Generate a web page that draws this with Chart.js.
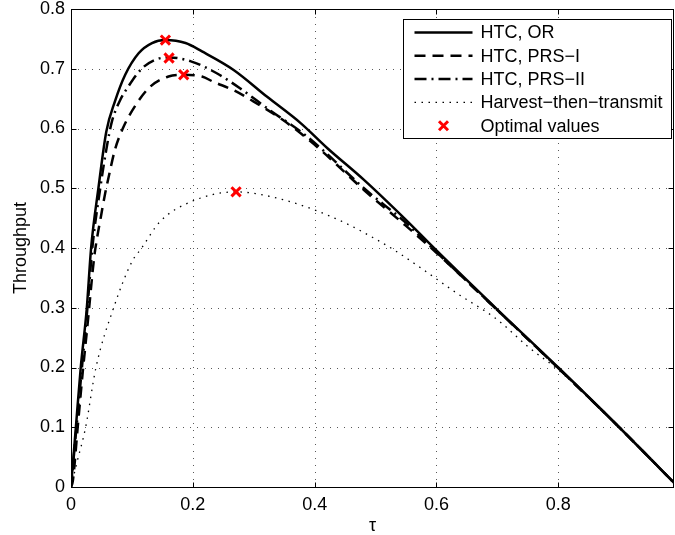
<!DOCTYPE html>
<html>
<head>
<meta charset="utf-8">
<script src="https://cdn.jsdelivr.net/npm/chart.js@4.4.1/dist/chart.umd.min.js"></script>
<style>
  html, body { margin: 0; padding: 0; background: #fff; overflow: hidden; }
  canvas { display: block; }
</style>
</head>
<body>
<canvas id="myChart" width="675" height="535"></canvas>
<script>
// values (tau on x, throughput on y)
const tauOR = [0, 0.008, 0.016, 0.026, 0.033, 0.045, 0.058, 0.072, 0.089, 0.111, 0.133, 0.155, 0.188, 0.215, 0.267, 0.322, 0.377, 0.421, 0.481, 0.547, 0.6, 0.7, 0.8, 0.9, 0.99];
const thrOR = [0, 0.1, 0.2, 0.3, 0.4, 0.5, 0.595, 0.645, 0.69, 0.726, 0.743, 0.748, 0.743, 0.729, 0.698, 0.653, 0.609, 0.567, 0.514, 0.45, 0.396, 0.297, 0.2, 0.1, 0.007];

const tauPRS1 = [0, 0.003, 0.011, 0.02, 0.027, 0.038, 0.043, 0.049, 0.056, 0.064, 0.072, 0.085, 0.108, 0.13, 0.16, 0.186, 0.215, 0.234, 0.267, 0.3, 0.344, 0.377, 0.41, 0.481, 0.55, 0.6, 0.7, 0.8, 0.9, 0.99];
const thrPRS1 = [0, 0.01, 0.1, 0.2, 0.27, 0.384, 0.418, 0.452, 0.491, 0.529, 0.564, 0.6, 0.642, 0.67, 0.687, 0.69, 0.687, 0.678, 0.664, 0.645, 0.617, 0.592, 0.564, 0.497, 0.437, 0.392, 0.296, 0.199, 0.1, 0.007];

const tauPRS2 = [0, 0.009, 0.018, 0.027, 0.035, 0.048, 0.058, 0.067, 0.081, 0.094, 0.116, 0.138, 0.161, 0.198, 0.24, 0.278, 0.33, 0.377, 0.41, 0.481, 0.55, 0.6, 0.7, 0.8, 0.9, 0.99];
const thrPRS2 = [0, 0.1, 0.2, 0.3, 0.4, 0.5, 0.565, 0.611, 0.648, 0.67, 0.7, 0.715, 0.719, 0.712, 0.692, 0.667, 0.628, 0.595, 0.567, 0.5, 0.442, 0.393, 0.296, 0.199, 0.1, 0.007];

const tauHTT = [0, 0.01, 0.024, 0.041, 0.07, 0.1, 0.116, 0.146, 0.196, 0.271, 0.303, 0.355, 0.399, 0.45, 0.5, 0.53, 0.571, 0.634, 0.7, 0.75, 0.8, 0.86, 0.9, 0.99];
const thrHTT = [0, 0.042, 0.1, 0.2, 0.3, 0.377, 0.4, 0.444, 0.477, 0.494, 0.491, 0.479, 0.464, 0.442, 0.415, 0.397, 0.369, 0.324, 0.28, 0.235, 0.196, 0.14, 0.099, 0.007];

// optimal points (red crosses)
const tauOpt = [0.155, 0.161, 0.185, 0.271];
const thrOpt = [0.748, 0.718, 0.690, 0.494];

const seriesLabels = ["HTC, OR", "HTC, PRS\u2212I", "HTC, PRS\u2212II", "Harvest\u2212then\u2212transmit", "Optimal values"];
const xTicks = [0, 0.2, 0.4, 0.6, 0.8];
const yTicks = [0, 0.1, 0.2, 0.3, 0.4, 0.5, 0.6, 0.7, 0.8];

const FONT = "'Liberation Sans', Arial, Helvetica, sans-serif";
Chart.defaults.font.family = FONT;
Chart.defaults.font.size = 18;
Chart.defaults.color = "#000";

const toXY = (xs, ys) => xs.map((x, i) => ({ x: x, y: ys[i] }));

const lineSet = (label, xs, ys, dash, width) => ({
  label: label,
  data: toXY(xs, ys),
  showLine: true,
  borderColor: "#000",
  borderWidth: width,
  borderDash: dash,
  pointRadius: 0,
  cubicInterpolationMode: "monotone",
  order: 1,
});

// MATLAB-like frame: dotted grid, inner ticks, box and legend
const matlabAxes = {
  id: "matlabAxes",
  beforeDatasetsDraw(chart) {
    const { ctx, chartArea: a, scales } = chart;
    ctx.save();
    ctx.strokeStyle = "rgba(0,0,0,0.65)";
    ctx.lineWidth = 1;
    ctx.setLineDash([1, 6]);
    xTicks.forEach((v) => {
      const px = Math.round(scales.x.getPixelForValue(v)) + 0.5;
      if (px <= a.left + 1) return;
      ctx.beginPath(); ctx.moveTo(px, a.bottom); ctx.lineTo(px, a.top); ctx.stroke();
    });
    yTicks.forEach((v) => {
      const py = Math.round(scales.y.getPixelForValue(v)) + 0.5;
      if (py >= a.bottom - 1 || py <= a.top + 1) return;
      ctx.beginPath(); ctx.moveTo(a.left, py); ctx.lineTo(a.right, py); ctx.stroke();
    });
    ctx.restore();
  },
  afterDraw(chart) {
    const { ctx, chartArea: a, scales } = chart;
    ctx.save();
    ctx.strokeStyle = "#000";
    ctx.lineWidth = 1;
    ctx.setLineDash([]);
    const L = Math.round(a.left) + 0.5, R = Math.round(a.right) - 0.5;
    const T = Math.round(a.top) + 0.5, B = Math.round(a.bottom) + 0.5;
    ctx.strokeRect(L, T, R - L, B - T);
    const tl = 5;
    xTicks.forEach((v) => {
      const px = Math.round(scales.x.getPixelForValue(v)) + 0.5;
      ctx.beginPath();
      ctx.moveTo(px, B); ctx.lineTo(px, B - tl);
      ctx.moveTo(px, T); ctx.lineTo(px, T + tl);
      ctx.stroke();
    });
    yTicks.forEach((v) => {
      const py = Math.round(scales.y.getPixelForValue(v)) + 0.5;
      ctx.beginPath();
      ctx.moveTo(L, py); ctx.lineTo(L + tl, py);
      ctx.moveTo(R, py); ctx.lineTo(R - tl, py);
      ctx.stroke();
    });

    // legend box
    const bw = 268, bh = 119;
    const bx = Math.round(a.right) - 271 + 0.5, by = Math.round(a.top) + 10 + 0.5;
    ctx.fillStyle = "#fff";
    ctx.fillRect(bx, by, bw, bh);
    ctx.strokeRect(bx, by, bw, bh);
    ctx.font = "18px " + FONT;
    ctx.textBaseline = "middle";
    chart.data.datasets.forEach((ds, i) => {
      const y = by + 13 + i * 23.3;
      const x0 = bx + 11, x1 = bx + 69;
      if (ds.showLine) {
        ctx.save();
        ctx.strokeStyle = ds.borderColor;
        ctx.lineWidth = ds.borderWidth;
        ctx.setLineDash(ds.borderDash);
        ctx.beginPath(); ctx.moveTo(x0, y); ctx.lineTo(x1, y); ctx.stroke();
        ctx.restore();
      } else {
        ctx.save();
        ctx.strokeStyle = ds.borderColor;
        ctx.lineWidth = ds.pointBorderWidth;
        const cx = (x0 + x1) / 2, s = 4.5;
        ctx.beginPath();
        ctx.moveTo(cx - s, y - s); ctx.lineTo(cx + s, y + s);
        ctx.moveTo(cx - s, y + s); ctx.lineTo(cx + s, y - s);
        ctx.stroke();
        ctx.restore();
      }
      ctx.fillStyle = "#000";
      ctx.fillText(ds.label, bx + 77, y + 1);
    });
    ctx.restore();
  },
};

const ctx = document.getElementById("myChart").getContext("2d");
new Chart(ctx, {
  type: "scatter",
  data: {
    datasets: [
      lineSet(seriesLabels[0], tauOR, thrOR, [], 2.5),
      lineSet(seriesLabels[1], tauPRS1, thrPRS1, [11, 7], 2.5),
      lineSet(seriesLabels[2], tauPRS2, thrPRS2, [12, 5, 2, 5], 2.5),
      lineSet(seriesLabels[3], tauHTT, thrHTT, [1.5, 5.5], 1.3),
      {
        label: seriesLabels[4],
        data: toXY(tauOpt, thrOpt),
        showLine: false,
        pointStyle: "crossRot",
        pointRadius: 6.5,
        pointBorderWidth: 3,
        borderColor: "#ff0000",
        backgroundColor: "#ff0000",
        order: 0,
      },
    ],
  },
  options: {
    responsive: false,
    animation: false,
    events: [],
    layout: { autoPadding: false, padding: { top: 9, right: 1, left: 0, bottom: 0 } },
    plugins: { legend: { display: false }, tooltip: { enabled: false } },
    scales: {
      x: {
        type: "linear",
        min: 0,
        max: 0.99,
        afterBuildTicks: (s) => { s.ticks = xTicks.map((v) => ({ value: v })); },
        afterFit: (s) => { s.height = 48; s.paddingLeft = 0; s.paddingRight = 0; },
        ticks: { padding: 7, maxRotation: 0, font: { size: 18, lineHeight: 1.2 } },
        grid: { display: false, drawTicks: false },
        border: { display: false },
        title: { display: true, text: "\u03c4", font: { size: 18, lineHeight: 1 }, padding: 0 },
      },
      y: {
        type: "linear",
        min: 0,
        max: 0.8,
        afterBuildTicks: (s) => { s.ticks = yTicks.map((v) => ({ value: v })); },
        afterFit: (s) => { s.width = 71; s.paddingTop = 0; s.paddingBottom = 0; },
        ticks: { padding: 6, font: { size: 18, lineHeight: 1 } },
        grid: { display: false, drawTicks: false },
        border: { display: false },
        title: { display: true, text: "Throughput", font: { size: 18, lineHeight: 1 }, padding: 12 },
      },
    },
  },
  plugins: [matlabAxes],
});
</script>
</body>
</html>
